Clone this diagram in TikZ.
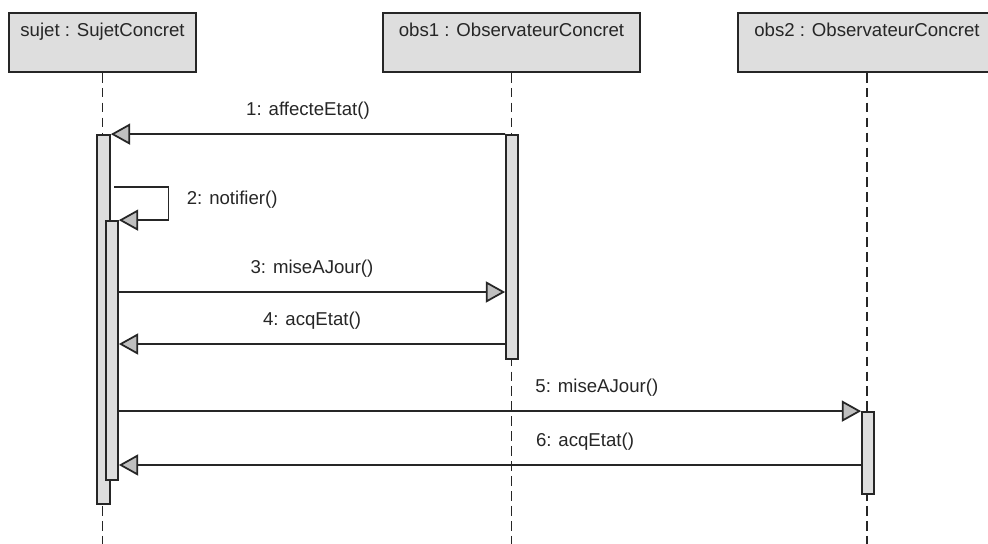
\documentclass[tikz,border=0pt]{standalone}
\usepackage{fontspec}
\setmainfont{Liberation Sans}
\usetikzlibrary{arrows.meta,positioning,fit}

\begin{document}
\begin{tikzpicture}[x=0.02cm, y=-0.02cm,
        object/.style={rectangle, draw=black!85, fill=black!13, line width=1pt,
            inner sep=0pt},
        bar/.style={object},
        lifeline/.style={draw=black!85, line width=1pt, dash pattern=on 5.5pt off 3pt},
        msg/.style={draw=black!85, line width=1pt,
            -{Triangle[length=11pt, width=12pt, fill=black!25]}},
        lbl/.style={font=\fontsize{10.6}{12}\selectfont, text=black!85, inner sep=0pt},
        head/.style={label={[lbl, anchor=north, yshift=-6pt]north:#1}},
    ]
        \useasboundingbox (0,0) rectangle (988,544);

        % Objects
        \node[object, head={sujet : SujetConcret}, fit={(9,13) (196,72)}] (sujet) {};
        \node[object, head={obs1 : ObservateurConcret}, fit={(383,13) (640,72)}] (obs1) {};
        \node[object, head={obs2 : ObservateurConcret}, fit={(738,13) (996,72)}] (obs2) {};

        % Lifelines
        \coordinate (bottom) at (0,544);
        \draw[lifeline] (sujet.south) -- (sujet.south |- bottom);
        \draw[lifeline] (obs1.south) -- (obs1.south |- bottom);
        \draw[lifeline] (obs2.south) -- (obs2.south |- bottom);

        % Activations
        \node[bar, fit={(97,135) (110,504)}] (sbar) {};
        \node[bar, fit={(106,221) (118,480)}] (ibar) {};
        \node[bar, fit={(506,135) (518,359)}] (obar) {};
        \node[bar, fit={(862,412) (874,494)}] (o2bar) {};

        % Message rows
        \coordinate (row3) at (0,292);
        \coordinate (row4) at (0,344);
        \coordinate (row6) at (0,465);

        \draw[msg] (obar.north west) -- node[lbl, above=8pt] {1: affecteEtat()} (sbar.north east);
        \draw[msg] ([xshift=2pt, yshift=-30pt]sbar.north east) -- ++(54,0)
            |- node[lbl, right=10pt, pos=0.2] {2: notifier()} (ibar.north east);
        \draw[msg] (ibar.east |- row3) -- node[lbl, above=8pt] {3: miseAJour()} (obar.west |- row3);
        \draw[msg] (obar.west |- row4) -- node[lbl, above=8pt] {4: acqEtat()} (ibar.east |- row4);
        \draw[msg] (ibar.east |- o2bar.north) -- node[lbl, above=8pt, pos=0.644] {5: miseAJour()} (o2bar.north west);
        \draw[msg] (o2bar.west |- row6) -- node[lbl, above=8pt, pos=0.372] {6: acqEtat()} (ibar.east |- row6);
    \end{tikzpicture}
\end{document}
